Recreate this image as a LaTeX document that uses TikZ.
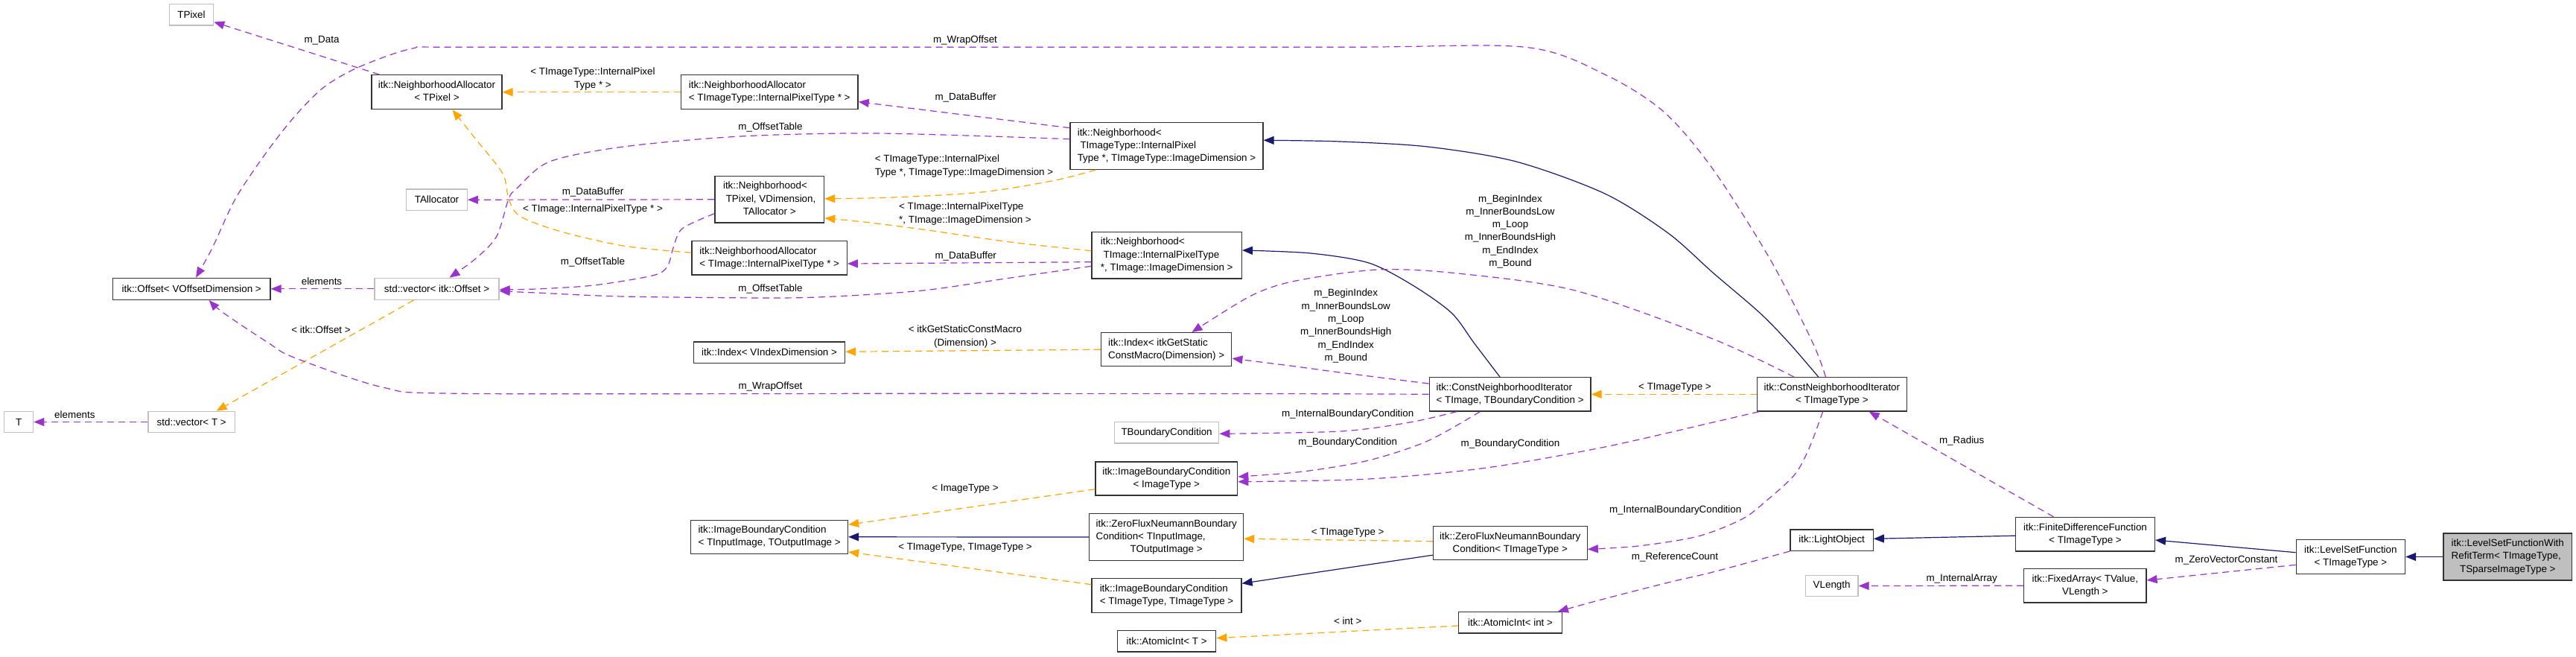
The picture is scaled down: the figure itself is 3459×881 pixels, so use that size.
\documentclass[tikz,border=0pt]{standalone}
\usepackage{fontspec}
\setmainfont{Liberation Sans}
\usetikzlibrary{arrows.meta,calc}
\definecolor{purp}{HTML}{9A32CD}
\definecolor{orng}{HTML}{FFA500}
\definecolor{navyb}{HTML}{191970}
\definecolor{gbord}{HTML}{BFBFBF}
\newcommand\dxl[2]{\begin{tabular}{@{}l@{}}#1\\\multicolumn{1}{@{}c@{}}{#2}\end{tabular}}
\newcommand\dxc[1]{\begin{tabular}{@{}c@{}}#1\end{tabular}}
\begin{document}
\begin{tikzpicture}[x=1pt,y=-1pt,
  every node/.style={font=\fontsize{13.4}{17.3}\selectfont, inner sep=0pt},
  bx/.style={draw=black!80, line width=1.3pt, fill=white, rectangle},
  gbx/.style={draw=gbord, line width=1.3pt, fill=white, rectangle},
  mbx/.style={draw=black!80, line width=1.3pt, fill=gbord, rectangle},
  lbl/.style={},
  tipx/.style={-{Triangle[length=14pt,width=11pt]}},
  usage/.style={draw=purp, line width=1.2pt, dash pattern=on 9pt off 6pt, tipx},
  tmpl/.style={draw=orng, line width=1.2pt, dash pattern=on 9pt off 6pt, tipx},
  inh/.style={draw=navyb, line width=1.2pt, tipx}]
\useasboundingbox (0,0) rectangle (3459,881);
\fill[white] (0,0) rectangle (3459,881);

% nodes
\node[gbx, minimum width=59.3pt, minimum height=28.3pt] (tpixel) at (257,19.8) {TPixel};
\node[bx, minimum width=175pt, minimum height=46pt] (na1) at (586.5,123.7) {\dxl{itk::NeighborhoodAllocator}{< TPixel >}};
\node[bx, minimum width=237.7pt, minimum height=46pt] (na2) at (1033.2,123.7) {\dxl{itk::NeighborhoodAllocator}{< TImageType::InternalPixelType * >}};
\node[gbx, minimum width=81.5pt, minimum height=28.3pt] (tall) at (586.5,268.2) {TAllocator};
\node[bx, minimum width=146.7pt, minimum height=62.3pt] (ntp) at (1033.2,267.8) {\dxl{itk::Neighborhood<\\\ TPixel, VDimension,}{TAllocator >}};
\node[bx, minimum width=208.3pt, minimum height=45.7pt] (na3) at (1033.2,346.2) {\dxl{itk::NeighborhoodAllocator}{< TImage::InternalPixelType * >}};
\node[bx, minimum width=211.6pt, minimum height=29pt] (offset) at (257.2,387.8) {itk::Offset< VOffsetDimension >};
\node[gbx, minimum width=167pt, minimum height=29pt] (vecoff) at (586.5,387.8) {std::vector< itk::Offset >};
\node[gbx, minimum width=39.2pt, minimum height=28.4pt] (tnode) at (25.1,566.5) {T};
\node[gbx, minimum width=116.5pt, minimum height=28.4pt] (vect) at (257.2,566.5) {std::vector< T >};
\node[bx, minimum width=259pt, minimum height=62.6pt] (ntt) at (1566.5,196) {\dxl{itk::Neighborhood<\\\ TImageType::InternalPixel}{Type *, TImageType::ImageDimension >}};
\node[bx, minimum width=201.3pt, minimum height=62.7pt] (nti) at (1566.7,342.7) {\dxl{itk::Neighborhood<\\\ TImage::InternalPixelType}{*, TImage::ImageDimension >}};
\node[bx, minimum width=202.8pt, minimum height=28.3pt] (idxv) at (1033.1,473.2) {itk::Index< VIndexDimension >};
\node[bx, minimum width=175.2pt, minimum height=45pt] (idxg) at (1566.2,469.2) {\dxl{itk::Index< itkGetStatic}{ConstMacro(Dimension) >}};
\node[bx, minimum width=216.8pt, minimum height=45.3pt] (cnib) at (2027.6,529.3) {\dxl{itk::ConstNeighborhoodIterator}{< TImage, TBoundaryCondition >}};
\node[bx, minimum width=200.9pt, minimum height=45.3pt] (cnit) at (2459.9,529.3) {\dxl{itk::ConstNeighborhoodIterator}{< TImageType >}};
\node[gbx, minimum width=140.4pt, minimum height=28.3pt] (tbc) at (1566.6,580.8) {TBoundaryCondition};
\node[bx, minimum width=190.7pt, minimum height=45pt] (ibci) at (1566.3,642.5) {\dxl{itk::ImageBoundaryCondition}{< ImageType >}};
\node[bx, minimum width=210.8pt, minimum height=45pt] (ibcio) at (1033.1,720.8) {\dxl{itk::ImageBoundaryCondition}{< TInputImage, TOutputImage >}};
\node[bx, minimum width=206.8pt, minimum height=63.4pt] (zfnio) at (1566.2,721) {\dxl{itk::ZeroFluxNeumannBoundary\\Condition< TInputImage,}{TOutputImage >}};
\node[bx, minimum width=200.9pt, minimum height=46pt] (ibctt) at (1566.5,799.7) {\dxl{itk::ImageBoundaryCondition}{< TImageType, TImageType >}};
\node[bx, minimum width=132.4pt, minimum height=28.3pt] (atomt) at (1566.6,860.8) {itk::AtomicInt< T >};
\node[bx, minimum width=206.8pt, minimum height=45pt] (zfnt) at (2027.8,729.2) {\dxl{itk::ZeroFluxNeumannBoundary}{Condition< TImageType >}};
\node[bx, minimum width=138.4pt, minimum height=28.3pt] (atomi) at (2028,835.8) {itk::AtomicInt< int >};
\node[bx, minimum width=111.2pt, minimum height=28.3pt] (light) at (2459.6,725.2) {itk::LightObject};
\node[gbx, minimum width=70.7pt, minimum height=28.4pt] (vlen) at (2459.6,786.5) {VLength};
\node[bx, minimum width=186.8pt, minimum height=45.7pt] (fdf) at (2800,717.2) {\dxl{itk::FiniteDifferenceFunction}{< TImageType >}};
\node[bx, minimum width=164.2pt, minimum height=45.7pt] (farr) at (2799.8,786.2) {\dxl{itk::FixedArray< TValue,}{VLength >}};
\node[bx, minimum width=146.3pt, minimum height=46.4pt] (lsf) at (3156.4,747.5) {\dxl{itk::LevelSetFunction}{< TImageType >}};
\node[mbx, minimum width=172.8pt, minimum height=63pt] (main) at (3367.3,747.5) {\dxl{itk::LevelSetFunctionWith\\RefitTerm< TImageType,}{TSparseImageType >}};

% edges
\draw[usage] ($(na1.north west)+(11,0)$) -- ($(tpixel.south east)+(0,-5)$);
\draw[tmpl] (na2.west) -- (na1.east);
\draw[usage] ($(ntt.west)+(0,-24.3)$) -- ($(na2.east)+(0,13)$);
\draw[usage] plot[smooth] coordinates {($(ntt.west)+(0,-9.3)$) (1180,179) (995,183) (837,197) (738,217) (694,253) (683,267) (667,317) (639,347) ($(vecoff.north)+(17,0)$)};
\draw[usage] (ntp.west) -- (tall.east);
\draw[tmpl] plot[smooth] coordinates {($(na3.west)+(0,-7)$) (837,330) (750,310) (698,290) (683,267) (675,233) (639,187) ($(na1.south)+(21,0)$)};
\draw[usage] plot[smooth] coordinates {($(ntp.west)+(0,19)$) (916,307) (904,333) (896,358) (876,370) (797,383) (720,388) ($(vecoff.east)+(0,1)$)};
\draw[usage] ($(nti.west)+(0,9)$) -- ($(na3.east)+(0,7.8)$);
\draw[tmpl] plot[smooth] coordinates {($(ntt.south west)+(35,0)$) (1417,242) (1318,258) (1199,265) ($(ntp.east)+(0,-1)$)};
\draw[tmpl] plot[smooth] coordinates {($(nti.west)+(0,-6)$) (1357,325) (1239,308) (1160,298) ($(ntp.east)+(0,25)$)};
\draw[usage] plot[smooth] coordinates {($(nti.west)+(0,14.6)$) (1357,373) (1239,390) (1120,398) (1034,400) (837,398) (720,393) ($(vecoff.east)+(0,3)$)};
\draw[usage] (vecoff.west) -- (offset.east);
\draw[tmpl] ($(vecoff.south)+(-31,0)$) -- ($(vect.north)+(33.4,0)$);
\draw[usage] (vect.west) -- (tnode.east);
\draw[usage] plot[smooth] coordinates {($(cnit.north)+(-8.4,0)$) (2434,460) (2378,350) (2300,227) (2234,150) (2155,100) (2048,63.3) (1800,63.3) (1200,63.3) (620,63.3) (554,65) (482,90) (435,117) (395,157) (356,207) (316,267) (285,333) ($(offset.north)+(5.8,0)$)};
\draw[usage] plot[smooth] coordinates {(cnib.west) (1700,528.5) (1200,528.3) (620,528.3) (514,520) (395,480) (360,460) (300,420) ($(offset.south)+(23.5,0)$)};
\draw[inh] plot[smooth] coordinates {($(cnit.north)+(-18.2,0)$) (2402,460) (2363,420) (2300,366) (2240,313) (2155,260) (2036,217) (1917,197) (1799,190) ($(ntt.east)+(0,-7.7)$)};
\draw[inh] plot[smooth] coordinates {($(cnib.north)+(-13.6,0)$) (1979,460) (1949,420) (1897,383) (1838,353) (1760,340) ($(nti.east)+(0,-6.7)$)};
\draw[usage] plot[smooth] coordinates {($(cnit.north west)+(50,0)$) (2300,455) (2115,390) (1957,367) (1850,362) (1740,377) (1680,397) ($(idxg.north)+(34.2,0)$)};
\draw[usage] plot[smooth] coordinates {($(cnib.west)+(0,-14.3)$) (1799,500) (1740,492) ($(idxg.east)+(0,12)$)};
\draw[tmpl] (idxg.west) -- ($(idxv.east)+(0,-1)$);
\draw[usage] plot[smooth] coordinates {($(cnib.south west)+(37.6,0)$) (1893,567) (1800,579) ($(tbc.east)+(0,1.5)$)};
\draw[usage] plot[smooth] coordinates {($(cnib.south west)+(68.8,0)$) (1917,592) (1838,618) (1750,633) ($(ibci.east)+(0,-2.5)$)};
\draw[usage] plot[smooth] coordinates {($(cnit.south west)+(3.2,0)$) (2300,567) (2155,600) (1996,628) (1838,643) ($(ibci.east)+(0,4.2)$)};
\draw[tmpl] ($(ibci.west)+(0,14.2)$) -- ($(ibcio.east)+(0,-16.5)$);
\draw[inh] (zfnio.west) -- (ibcio.east);
\draw[tmpl] ($(ibctt.west)+(0,-15)$) -- ($(ibcio.east)+(0,20.2)$);
\draw[tmpl] ($(zfnt.west)+(0,-2.5)$) -- ($(zfnio.east)+(0,2.3)$);
\draw[inh] ($(zfnt.west)+(0,16)$) -- ($(ibctt.east)+(0,-16.4)$);
\draw[usage] plot[smooth] coordinates {($(cnit.south)+(-12.3,0)$) (2430,600) (2410,637) (2371,673) (2339,697) (2280,720) (2200,733) ($(zfnt.east)+(0,8.1)$)};
\draw[tmpl] (cnit.west) -- (cnib.east);
\draw[tmpl] ($(atomi.west)+(0,4.2)$) -- ($(atomt.east)+(0,-4.1)$);
\draw[usage] plot[smooth] coordinates {(light.south west) (2300,768) (2240,782) (2150,805) ($(atomi.north east)+(-6,0)$)};
\draw[inh] ($(fdf.west)+(0,2)$) -- ($(light.east)+(0,-1.9)$);
\draw[usage] ($(fdf.north west)+(51.4,0)$) -- ($(cnit.south east)+(-51.3,0)$);
\draw[inh] ($(lsf.west)+(0,-5.8)$) -- ($(fdf.east)+(0,7.8)$);
\draw[usage] ($(lsf.west)+(0,10.8)$) -- ($(farr.east)+(0,-7.2)$);
\draw[usage] (farr.west) -- (vlen.east);
\draw[inh] (main.west) -- (lsf.east);

% edge labels
\node[lbl] (l1) at (432,54.3) {m\_Data};
\node[lbl] (l2) at (796,106) {\dxl{< TImageType::InternalPixel}{Type * >}};
\node[lbl] (l3) at (1034.5,170.7) {m\_OffsetTable};
\node[lbl] (l4) at (796,258.3) {m\_DataBuffer};
\node[lbl] (l5) at (796,281) {< TImage::InternalPixelType * >};
\node[lbl] (l6) at (796,352.3) {m\_OffsetTable};
\node[lbl] (l7) at (1034.5,388.3) {m\_OffsetTable};
\node[lbl] (l8) at (432,378) {elements};
\node[lbl] (l9) at (431,442.7) {< itk::Offset >};
\node[lbl] (l10) at (100.4,556.7) {elements};
\node[lbl] (l11) at (1296,54.3) {m\_WrapOffset};
\node[lbl] (l12) at (1034.5,519.3) {m\_WrapOffset};
\node[lbl] (l13) at (1296.7,130.7) {m\_DataBuffer};
\node[lbl] (l14) at (1294.5,223) {\dxl{< TImageType::InternalPixel}{Type *, TImageType::ImageDimension >}};
\node[lbl] (l15) at (1296,287) {\dxl{< TImage::InternalPixelType}{*, TImage::ImageDimension >}};
\node[lbl] (l16) at (1296.7,344.3) {m\_DataBuffer};
\node[lbl] (l17) at (1296,452) {\dxc{< itkGetStaticConstMacro\\(Dimension) >}};
\node[lbl] (l18) at (2028,310.8) {\dxc{m\_BeginIndex\\m\_InnerBoundsLow\\m\_Loop\\m\_InnerBoundsHigh\\m\_EndIndex\\m\_Bound}};
\node[lbl] (l19) at (1807.3,437.7) {\dxc{m\_BeginIndex\\m\_InnerBoundsLow\\m\_Loop\\m\_InnerBoundsHigh\\m\_EndIndex\\m\_Bound}};
\node[lbl] (l20) at (1809.7,555.7) {m\_InternalBoundaryCondition};
\node[lbl] (l21) at (1809.7,594.3) {m\_BoundaryCondition};
\node[lbl] (l22) at (2028,595.7) {m\_BoundaryCondition};
\node[lbl] (l23) at (1296,656) {< ImageType >};
\node[lbl] (l24) at (1296,735) {< TImageType, TImageType >};
\node[lbl] (l25) at (1809.7,715) {< TImageType >};
\node[lbl] (l26) at (2249,520) {< TImageType >};
\node[lbl] (l27) at (1809.7,833.3) {< int >};
\node[lbl] (l28) at (2249.7,685) {m\_InternalBoundaryCondition};
\node[lbl] (l29) at (2249,748.3) {m\_ReferenceCount};
\node[lbl] (l30) at (2634.2,591.7) {m\_Radius};
\node[lbl] (l31) at (2634.2,776.7) {m\_InternalArray};
\node[lbl] (l32) at (2989.5,751.7) {m\_ZeroVectorConstant};
\end{tikzpicture}
\end{document}
